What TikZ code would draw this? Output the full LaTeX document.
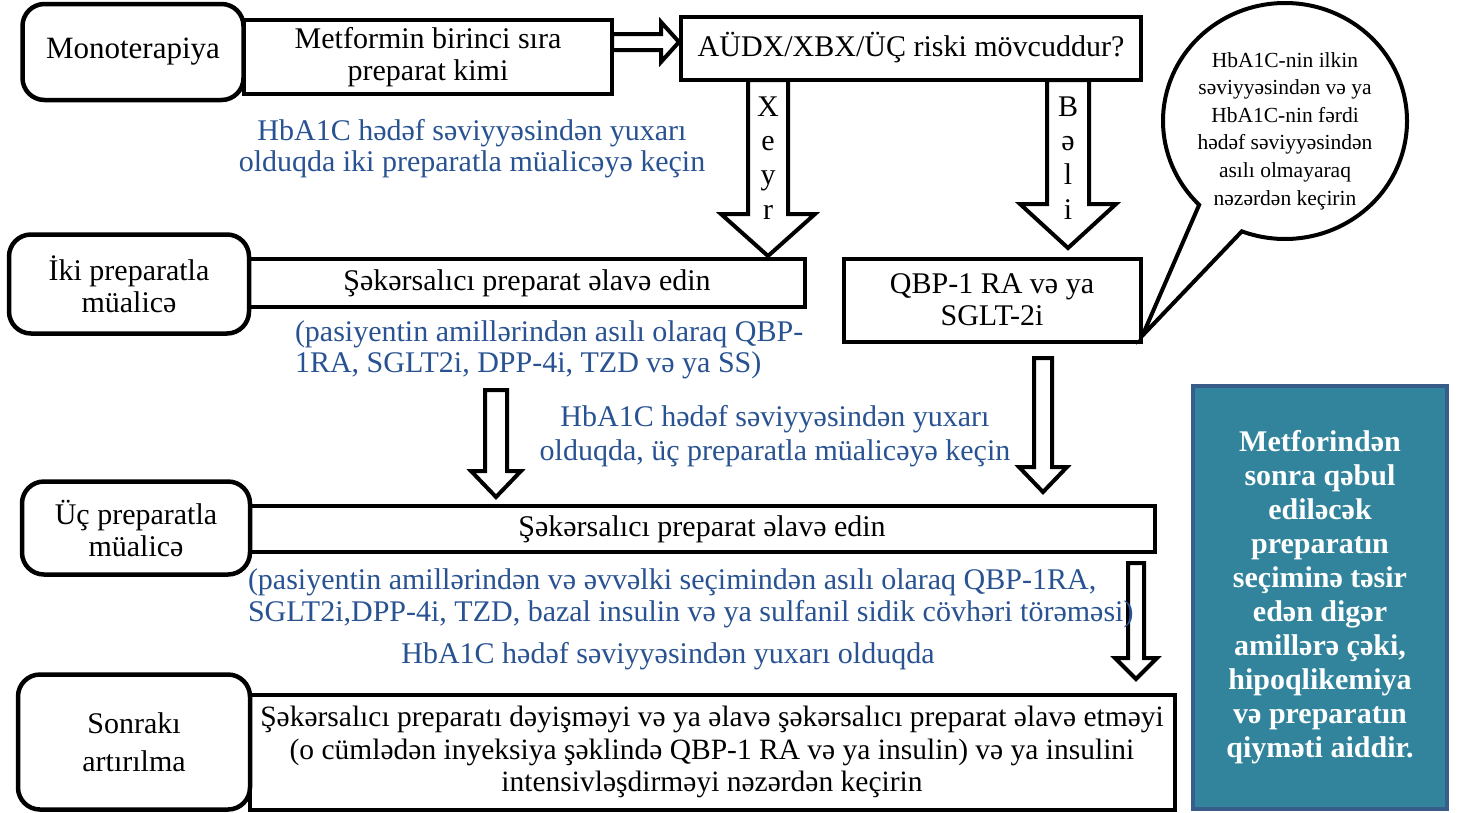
\documentclass[tikz,border=0pt]{standalone}
\usepackage{fontspec}
\setmainfont{Liberation Serif}
\usetikzlibrary{shapes.callouts,calc}

\definecolor{noteblue}{RGB}{40,82,145}
\definecolor{tealfill}{RGB}{49,132,155}
\definecolor{tealedge}{RGB}{56,93,138}

% hollow block arrow pointing down: x, top, tip, shaft half width, head half width, head length
\newcommand\blockdown[6]{%
  \draw[blockarrow] ({#1-#4},#2) -- ({#1-#4},{#3-#6}) -- ({#1-#5},{#3-#6}) -- (#1,#3)
    -- ({#1+#5},{#3-#6}) -- ({#1+#4},{#3-#6}) -- ({#1+#4},#2) -- cycle;}
% hollow block arrow pointing right: y, start, tip, shaft half width, head half width, head length
\newcommand\blockright[6]{%
  \draw[blockarrow] (#2,{#1-#4}) -- ({#3-#6},{#1-#4}) -- ({#3-#6},{#1-#5}) -- (#3,#1)
    -- ({#3-#6},{#1+#5}) -- ({#3-#6},{#1+#4}) -- (#2,{#1+#4}) -- cycle;}

\tikzset{
  every node/.style={inner sep=0pt, outer sep=0pt},
  plainbox/.style={draw, line width=4pt, fill=white, align=center,
    font=\fontsize{30}{32}\selectfont},
  roundbox/.style={plainbox, rounded corners=22pt, line width=4.5pt},
  note/.style={text=noteblue, font=\fontsize{30}{31}\selectfont},
  letters/.style={align=center, font=\fontsize{30}{34.3}\selectfont},
  blockarrow/.style={draw, fill=white, line width=4pt, line join=miter},
}

\begin{document}
\begin{tikzpicture}[x=1pt, y=-1pt]
\useasboundingbox (0,0) rectangle (1464,812);

% step rows: plain boxes first, rounded labels on top
\node[plainbox, minimum width=368pt, minimum height=74pt] (metf) at (428,57)
  {Metformin birinci sıra\\preparat kimi};
\node[plainbox, minimum width=460pt, minimum height=63pt] (risk) at (911,48)
  {AÜDX/XBX/ÜÇ riski mövcuddur?};
\node[plainbox, minimum width=556pt, minimum height=48pt] (add1) at (527,283)
  {Şəkərsalıcı preparat əlavə edin};
\node[plainbox, minimum width=297pt, minimum height=83pt] (qbp) at (992,300)
  {QBP-1 RA və ya\\SGLT-2i};
\node[plainbox, minimum width=905pt, minimum height=46pt] (add2) at (702,529)
  {Şəkərsalıcı preparat əlavə edin};
\node[plainbox, minimum width=925pt, minimum height=115pt, font=\fontsize{29.5}{32.5}\selectfont]
  (last) at (712,752)
  {Şəkərsalıcı preparatı dəyişməyi və ya əlavə şəkərsalıcı preparat əlavə etməyi\\
   (o cümlədən inyeksiya şəklində QBP-1 RA və ya insulin) və ya insulini\\
   intensivləşdirməyi nəzərdən keçirin};

\node[roundbox, minimum width=221pt, minimum height=96pt, font=\fontsize{31}{32}\selectfont]
  (mono) at (133,52) {Monoterapiya};
\node[roundbox, minimum width=240pt, minimum height=99pt] (two) at (129,284) {İki preparatla\\müalicə};
\node[roundbox, minimum width=228pt, minimum height=93pt] (three) at (136,528) {Üç preparatla\\müalicə};
\node[roundbox, minimum width=232pt, minimum height=135pt, font=\fontsize{30}{38}\selectfont]
  (next) at (134,742) {Sonrakı\\artırılma};

% block arrows
\blockright{42}{612}{679}{8}{20}{18}
\blockdown{768}{80}{256}{20}{47}{42}
\blockdown{1068}{80}{248}{21}{48}{44}
\blockdown{496}{390}{497}{11}{25}{26}
\blockdown{1043}{358}{492}{9}{24}{25}
\blockdown{1136}{563}{679}{8}{21}{21}

\node[letters] (no) at (768,158) {X\\e\\y\\r};
\node[letters] (yes) at (1068,158) {B\\ə\\l\\i};

% blue notes
\node[note, align=center] (n1) at (472,149)
  {HbA1C hədəf səviyyəsindən yuxarı\\olduqda iki preparatla müalicəyə keçin};
\node[note, align=left, anchor=west] (n2) at (295,350)
  {(pasiyentin amillərindən asılı olaraq QBP-\\1RA, SGLT2i, DPP-4i, TZD və ya SS)};
\node[note, align=center, font=\fontsize{30}{34}\selectfont] (n3) at (775,436)
  {HbA1C hədəf səviyyəsindən yuxarı\\olduqda, üç preparatla müalicəyə keçin};
\node[note, align=left, anchor=west, font=\fontsize{30}{32}\selectfont] (n4) at (248,598)
  {(pasiyentin amillərindən və əvvəlki seçimindən asılı olaraq QBP-1RA,\\
   SGLT2i,DPP-4i, TZD, bazal insulin və ya sulfanil sidik cövhəri törəməsi)};
\node[note] (n5) at (668,656) {HbA1C hədəf səviyyəsindən yuxarı olduqda};

% speech bubble pointing at the QBP box
\coordinate (tip) at ($(qbp.south east)+(2,-6)$);
\node[draw, line width=4pt, fill=white, ellipse callout, callout absolute pointer={(tip)},
  callout pointer arc=24, minimum width=244pt, minimum height=236pt] (bubble) at (1285,121) {};
\node[align=center, font=\fontsize{21.5}{27.6}\selectfont] (bubbletext) at (1285,131)
  {HbA1C-nin ilkin\\səviyyəsindən və ya\\HbA1C-nin fərdi\\hədəf səviyyəsindən\\asılı olmayaraq\\nəzərdən keçirin};

% side panel
\node[draw=tealedge, fill=tealfill, line width=4pt, minimum width=254pt, minimum height=423pt,
  text=white, align=center, font=\bfseries\fontsize{30}{34}\selectfont] (factors) at (1320,597)
  {Metforindən\\sonra qəbul\\ediləcək\\preparatın\\seçiminə təsir\\edən digər\\amillərə çəki,\\hipoqlikemiya\\və preparatın\\qiyməti aiddir.};
\end{tikzpicture}
\end{document}
